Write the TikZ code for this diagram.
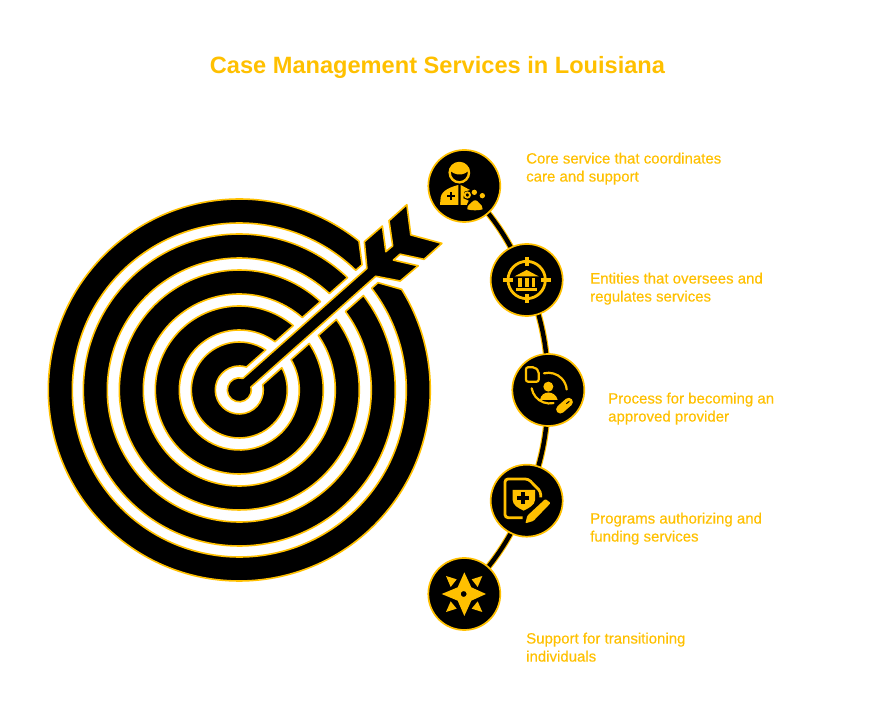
\documentclass[tikz,border=0pt]{standalone}
\usepackage{fontspec}
\setmainfont{Liberation Sans}
\newfontfamily\bodyfont[FakeBold=0.4]{Liberation Sans}
\newfontfamily\titlefont{Liberation Sans}[BoldFont={Liberation Sans Bold}]
\usetikzlibrary{backgrounds}
\definecolor{amber}{HTML}{FFC000}
\tikzset{
  target/.style={fill=black,draw=amber,line width=1.6pt,line join=round},
  badge/.style={circle,fill=black,draw=amber,line width=1.7pt,minimum size=72pt,inner sep=0pt},
  link/.style={draw=amber,line width=1.1pt,double=black,double distance=4.4pt},
  caption/.style={anchor=north west,inner sep=0pt,align=left,text=amber,font=\bodyfont\fontsize{15}{18}\selectfont},
  zA/.style={shift={(0,714)},yscale=-1,shift={(420,140)},scale=1/3},
  zB/.style={shift={(0,714)},yscale=-1,shift={(420,340)},scale=1/3},
  pix/.style={shift={(0,714)},yscale=-1},
  iconline/.style={draw=amber,line width=2.2pt,fill=none},
}
\begin{document}
\begin{tikzpicture}[x=1pt,y=1pt]
\useasboundingbox (0,0) rectangle (875,714);

\node[anchor=base,inner sep=0pt,text=amber,font=\titlefont\bfseries\fontsize{23.6}{28}\selectfont] (title) at (437.5,640) {Case Management Services in Louisiana};

% badges
\begin{scope}[pix]
\node[badge] (c1) at (464.3,186) {};
\node[badge] (c2) at (526.7,280) {};
\node[badge] (c3) at (548.3,390) {};
\node[badge] (c4) at (526.7,500.7) {};
\node[badge] (c5) at (464.3,594) {};
\node[caption] (t1) at (526,152.5) {Core service that coordinates\\care and support};
\node[caption] (t2) at (590,272.5) {Entities that oversees and\\regulates services};
\node[caption] (t3) at (608,392.5) {Process for becoming an\\approved provider};
\node[caption] (t4) at (590,512.5) {Programs authorizing and\\funding services};
\node[caption] (t5) at (526,632.5) {Support for transitioning\\individuals};
\end{scope}

\begin{pgfonlayer}{background}
\draw[link] (c1.center) to[bend left=10] (c2.center);
\draw[link] (c2.center) to[bend left=10] (c3.center);
\draw[link] (c3.center) to[bend left=10] (c4.center);
\draw[link] (c4.center) to[bend left=10] (c5.center);
\end{pgfonlayer}

% target
\begin{scope}[shift={(239.3,324)},rotate=41.5]
\path[target] (9.7:191) arc[start angle=9.7,end angle=350.3,radius=191]
  -- (175,-11.5) -- (356.05:167) arc[start angle=356.05,end angle=4.29,radius=167] -- (175,12.5) -- cycle;
\foreach \Ro/\Ri in {156/132,120/96,84/60,48/24}{
  \pgfmathsetmacro\ao{asin(12.5/\Ro)}
  \pgfmathsetmacro\bo{asin(11.5/\Ro)}
  \pgfmathsetmacro\ac{asin(12.5/\Ri)}
  \pgfmathsetmacro\bc{asin(11.5/\Ri)}
  \path[target] (\ao:\Ro) arc[start angle=\ao,end angle=360-\bo,radius=\Ro]
    -- (360-\bc:\Ri) arc[start angle=360-\bc,end angle=\ac,radius=\Ri] -- cycle;
}
\path[target] (10.4,6.3) arc[start angle=31,end angle=332,radius=12]
  -- (177.5,-5.2) -- (192.7,-25) -- (216.3,-25.5) -- (201.5,-4.8) -- (210.4,-4.8)
  -- (225,-24.6) -- (248.9,-24.4) -- (231.2,2.5) -- (248.3,27.8) -- (224.3,27.6)
  -- (210.4,6.3) -- (201.4,6.5) -- (215.8,28) -- (191.9,28.2) -- (176.1,6.5) -- cycle;
\end{scope}

% icon 1
\begin{scope}[zA]
\draw[amber,line width=2.4pt] (118,98) circle (29);
\fill[amber] (88,90) .. controls (105,108) and (132,108) .. (148,90) .. controls (140,60) and (96,60) .. (88,90) -- cycle;
\fill[amber] (60,195) -- (62,172) .. controls (66,150) and (95,140) .. (115,135) -- (115,195) -- cycle;
\fill[black] (80,164) rectangle (106,172);
\fill[black] (89,155) rectangle (97,181);
\fill[amber] (122,135) -- (150,150) -- (133,155) -- (130,175) -- (146,182) -- (140,195) -- (122,195) -- cycle;
\draw[amber,line width=1.8pt] (142,165) circle (8);
\fill[amber] (163,157) circle (8);
\fill[amber] (187,167) circle (8);
\fill[amber] (142,208) .. controls (140,195) and (152,192) .. (156,186) .. controls (162,178) and (172,180) .. (176,188) .. controls (182,194) and (190,198) .. (188,208) .. controls (175,212) and (155,212) .. (142,208) -- cycle;
\end{scope}

% icon 2
\begin{scope}[zA]
\draw[amber,line width=2.8pt] (320,420) circle (56);
\fill[amber] (314,350) rectangle (326,378);
\fill[amber] (314,462) rectangle (326,490);
\fill[amber] (250,414) rectangle (278,426);
\fill[amber] (362,414) rectangle (392,426);
\fill[amber] (284,409) -- (320,390) -- (356,409) -- cycle;
\fill[amber] (294,415) rectangle (305,440);
\fill[amber] (314.5,415) rectangle (325.5,440);
\fill[amber] (335,415) rectangle (346,440);
\fill[amber] (288,443) rectangle (352,452);
\end{scope}

% icon 3
\begin{scope}[zB]
\draw[iconline,rounded corners=2pt] (318,82) -- (345,82) -- (356,93) -- (356,125) -- (318,125) -- cycle;
\draw[iconline,line cap=round] (372,100) arc[start angle=-104,end angle=-5,radius=55];
\draw[iconline,line cap=round] (335,145) arc[start angle=170,end angle=78,radius=55];
\fill[amber] (385,140) circle (15);
\fill[amber] (360,180) .. controls (364,150) and (406,150) .. (413,180) -- cycle;
\draw[black,line width=10.5pt,line cap=round] (421,208) -- (446,186);
\draw[amber,line width=8.4pt,line cap=round] (421,208) -- (446,186);
\draw[black,line width=1pt] (439,191) -- (448,184);
\end{scope}

% icon 4
\begin{scope}[zB]
\draw[draw=amber,line width=2.8pt,rounded corners=3pt] (308,533) -- (255,533) -- (255,417) -- (325,417) -- (362,455) -- (362,472);
\fill[amber] (278,450) -- (345,450) -- (345,480) .. controls (345,495) and (325,505) .. (311,512) .. controls (295,505) and (278,495) .. (278,480) -- cycle;
\fill[black] (292,467) rectangle (328,479);
\fill[black] (304,455) rectangle (316,491);
\fill[amber,rounded corners=1pt] (376,477) -- (392,489) -- (340,543) -- (316,550) -- (322,527) -- cycle;
\end{scope}

% icon 5
\begin{scope}[zB]
\fill[amber,even odd rule] (133,697) -- (154,742) -- (198,762) -- (154,782) -- (133,828) -- (113,782) -- (65,762) -- (113,742) -- cycle (131,762) circle (9);
\fill[amber] (78,708) -- (110,718) -- (92,741) -- cycle;
\fill[amber] (187,708) -- (155,718) -- (173,741) -- cycle;
\fill[amber] (187,816) -- (155,806) -- (173,784) -- cycle;
\fill[amber] (78,816) -- (110,806) -- (92,784) -- cycle;
\end{scope}
\end{tikzpicture}
\end{document}
